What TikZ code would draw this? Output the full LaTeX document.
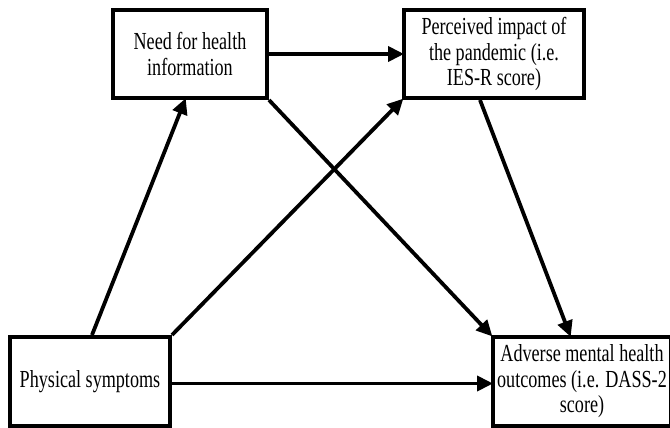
\documentclass[tikz,border=0pt]{standalone}
\usepackage{fontspec}
\setmainfont[FakeStretch=0.74]{Liberation Serif}
\usetikzlibrary{arrows.meta,calc}
\tikzset{
  box/.style={draw=black, line width=4pt, fill=white, align=center, inner sep=0pt,
    font=\fontsize{24.5}{25.5}\selectfont},
  link/.style={line width=3.8pt, -{Triangle[length=16pt,width=15pt]}, shorten >=-2pt}
}
\begin{document}
\begin{tikzpicture}[x=1pt,y=-1pt]
\useasboundingbox (0,0) rectangle (670,428);
\clip (0,0) rectangle (670,428);
\fill[white] (0,0) rectangle (670,428);
\node[box, minimum width=154pt, minimum height=88pt] (need) at (190,54) {Need for health\\information};
\node[box, minimum width=180pt, minimum height=88pt] (perc) at (494,54) {Perceived impact of\\the pandemic (i.e.\\IES-R score)};
\node[box, minimum width=160pt, minimum height=89pt] (phys) at (90,381.5) {Physical symptoms};
\node[box, minimum width=178pt, minimum height=89pt] (adv) at (582,381.5) {Adverse mental health\\outcomes (i.e. DASS-2\\score)};
\draw[link] ($(phys.north)+(2,0)$) -- ($(need.south)+(-5,0)$);
\draw[link] (phys.north east) -- (perc.south west);
\draw[link] (need.east) -- (perc.west);
\draw[link] (need.south east) -- (adv.north west);
\draw[link] ($(perc.south)+(-14,0)$) -- ($(adv.north)+(-12,0)$);
\draw[link] ($(phys.east)+(0,2)$) -- ($(adv.west)+(0,2)$);
\end{tikzpicture}
\end{document}
